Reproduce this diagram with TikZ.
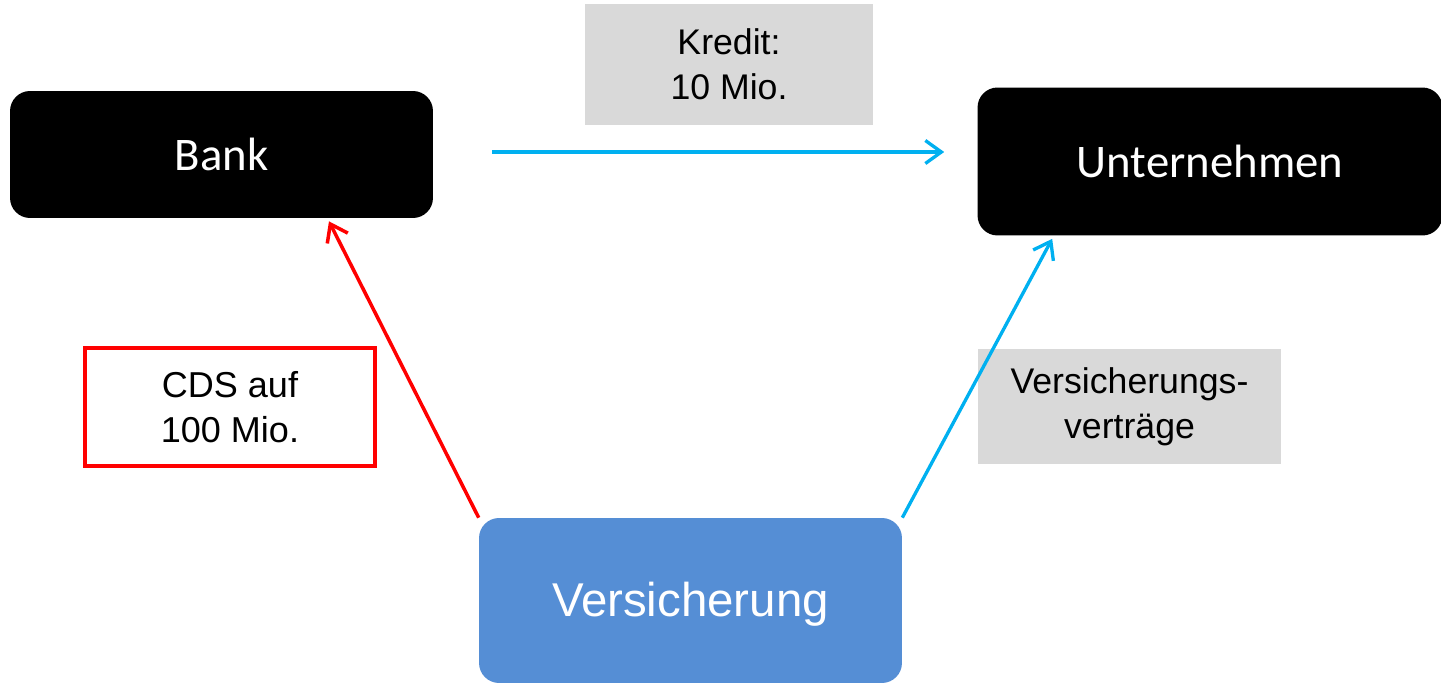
\documentclass[tikz,border=0pt]{standalone}
\usepackage{fontspec}
\setmainfont{Liberation Sans}
\newfontfamily\calib{Carlito}
\usetikzlibrary{positioning,arrows.meta}
\definecolor{skyline}{HTML}{00B0F0}
\definecolor{insblue}{HTML}{558ED5}
\definecolor{lblgray}{HTML}{D9D9D9}
\tikzset{
  >={Straight Barb[length=3.2mm,width=4.6mm]},
  party/.style={fill=black,text=white,rounded corners=4mm,inner sep=0pt,
    font=\calib\fontsize{26.6}{30}\selectfont},
  insurer/.style={fill=insblue,text=white,rounded corners=4mm,inner sep=0pt,
    font=\fontsize{27}{30}\selectfont},
  lbl/.style={fill=lblgray,align=center,inner sep=0pt,
    font=\fontsize{20.3}{25.5}\selectfont},
  cdslbl/.style={draw=red,line width=2.3pt,fill=white,align=center,inner sep=0pt,
    font=\fontsize{20.5}{25.5}\selectfont},
  flow/.style={->,draw=skyline,line width=1.9pt},
  cdsflow/.style={->,draw=red,line width=2pt},
}
\begin{document}
\begin{tikzpicture}[x=0.02cm,y=-0.02cm]
  \useasboundingbox (0,0) rectangle (1441,685);
  \node[party,minimum width=8.46cm,minimum height=2.54cm] (bank) at (221.5,154.5) {Bank};
  \node[party,minimum width=9.3cm,minimum height=2.96cm] (unt) at (1210,161.5) {Unternehmen};
  \node[insurer,minimum width=8.46cm,minimum height=3.3cm,text depth=0.05cm] (vers) at (690.5,600.5) {Versicherung};
  \node[lbl,minimum width=5.76cm,minimum height=2.42cm] (kredit) at (729,64.5) {Kredit:\\10 Mio.};
  \node[cdslbl,minimum width=5.8cm,minimum height=2.36cm] (cds) at (230,407) {CDS auf\\100 Mio.};
  \node[lbl,minimum width=6.06cm,minimum height=2.3cm] (vertr) at (1129.5,406.5) {Versicherungs-\\vertr\"age};

  \draw[flow] ([xshift=1.18cm,yshift=0.05cm]bank.east) -- ([xshift=-0.66cm,yshift=0.05cm]bank.east -| unt.west);
  \draw[cdsflow] (vers.north west) -- ([xshift=2.15cm,yshift=-0.06cm]bank.south);
  \draw[flow] (vers.north east) -- ([xshift=1.5cm,yshift=-0.06cm]unt.south west);
\end{tikzpicture}
\end{document}
